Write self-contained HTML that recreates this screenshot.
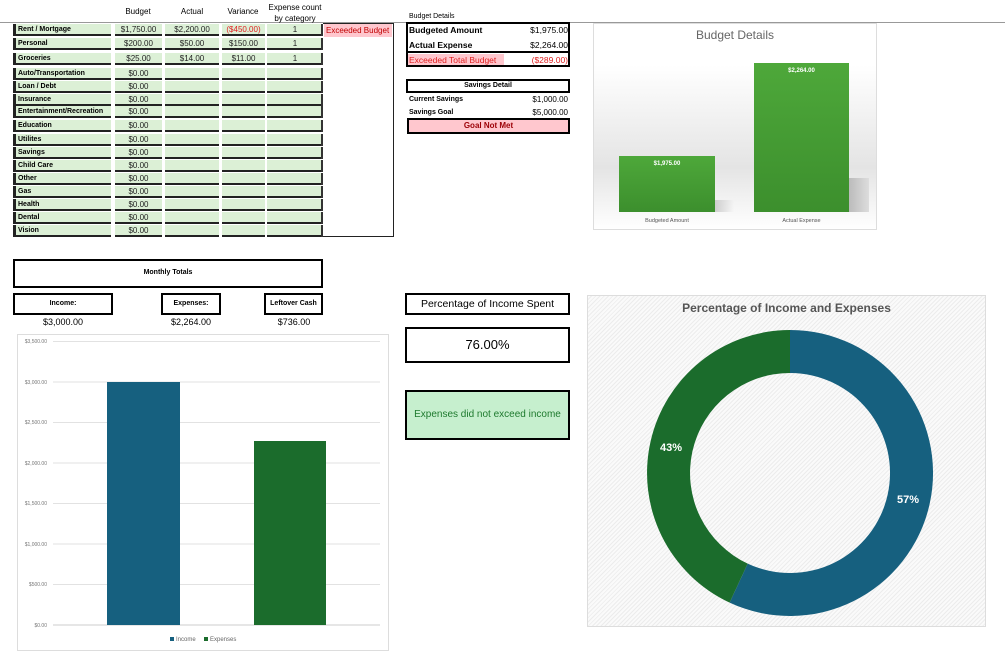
<!DOCTYPE html>
<html><head><meta charset="utf-8"><style>
body{margin:0;width:1005px;height:660px;position:relative;background:#fff;font-family:"Liberation Sans",sans-serif;overflow:hidden}
.a{position:absolute;box-sizing:border-box}
.c{font-size:7px;background:#dcf0d6;border-bottom:2px solid #222;}
.lab{font-weight:bold;border-left:3px solid #222;padding-left:2px;font-size:7px;line-height:11px}
.num{text-align:center;font-size:8px;line-height:11px;color:#222}
.box{border:2.5px solid #000;text-align:center;font-weight:bold}
</style></head><body>
<div class="a" style="left:0;top:22px;width:1005px;height:1px;background:#999"></div>
<div class="a" style="left:110px;top:7px;width:56px;text-align:center;font-size:8px">Budget</div>
<div class="a" style="left:165px;top:7px;width:54px;text-align:center;font-size:8px">Actual</div>
<div class="a" style="left:220px;top:7px;width:46px;text-align:center;font-size:8px">Variance</div>
<div class="a" style="left:264px;top:2px;width:62px;text-align:center;font-size:8px;line-height:11px">Expense count<br>by category</div>
<div class="a" style="left:323px;top:23px;width:71px;height:214px;border:1px solid #222;border-left:none"></div>
<div class="a" style="left:324px;top:24px;width:68px;height:13px;background:#ffc7ce;color:#c00000;font-size:8px;line-height:13px;padding-left:2px">Exceeded Budget</div>
<div id="rows"></div>
<script>
var r=[["Rent / Mortgage",24,"$1,750.00","$2,200.00","($450.00)","1"],["Personal",38,"$200.00","$50.00","$150.00","1"],["Groceries",53,"$25.00","$14.00","$11.00","1"],["Auto/Transportation",68],["Loan / Debt",81],["Insurance",94],["Entertainment/Recreation",106],["Education",120],["Utilites",134],["Savings",147],["Child Care",160],["Other",173],["Gas",186],["Health",199],["Dental",212],["Vision",225]];
var cols=[[13,98],[115,47],[165,54],[222,43],[267,56]];var h="";
r.forEach(function(o){var y=o[1],ht=12;
h+='<div class="a c lab" style="left:13px;top:'+y+'px;width:98px;height:'+ht+'px">'+o[0]+'</div>';
for(var i=1;i<5;i++){var t=i==1?(o[2]||"$0.00"):(o[i+1]||"");var st=(i==3&&o[4]&&o[4][0]=="(")?"color:#e02020;":"";
h+='<div class="a c num" style="'+st+'left:'+cols[i][0]+'px;top:'+y+'px;width:'+cols[i][1]+'px;height:'+ht+'px">'+t+'</div>';}
h+='<div class="a" style="left:321px;top:'+y+'px;width:2px;height:'+ht+'px;background:#333"></div>';});
document.getElementById("rows").innerHTML=h;
</script>
<!-- budget details -->
<div class="a" style="left:409px;top:13px;font-size:7px">Budget Details</div>
<div class="a" style="left:406px;top:22px;width:164px;height:45px;border:2px solid #000"></div>
<div class="a" style="left:406px;top:51px;width:164px;height:2px;background:#000"></div>
<div class="a" style="left:409px;top:25px;font-size:8.5px;font-weight:bold">Budgeted Amount</div>
<div class="a" style="left:500px;top:25px;width:68px;text-align:right;font-size:8.5px">$1,975.00</div>
<div class="a" style="left:409px;top:40px;font-size:8.5px;font-weight:bold">Actual Expense</div>
<div class="a" style="left:500px;top:40px;width:68px;text-align:right;font-size:8.5px">$2,264.00</div>
<div class="a" style="left:408px;top:54px;width:96px;height:11px;background:#ffc7ce"></div>
<div class="a" style="left:409px;top:55px;font-size:8.5px;color:#e02020">Exceeded Total Budget</div>
<div class="a" style="left:500px;top:55px;width:68px;text-align:right;font-size:8.5px;color:#e02020">($289.00)</div>
<div class="a box" style="left:406px;top:79px;width:164px;height:14px;font-size:7px;line-height:10px">Savings Detail</div>
<div class="a" style="left:409px;top:96px;font-size:7px;font-weight:bold">Current Savings</div>
<div class="a" style="left:500px;top:95px;width:68px;text-align:right;font-size:8px">$1,000.00</div>
<div class="a" style="left:409px;top:109px;font-size:7px;font-weight:bold">Savings Goal</div>
<div class="a" style="left:500px;top:108px;width:68px;text-align:right;font-size:8px">$5,000.00</div>
<div class="a box" style="left:407px;top:118px;width:163px;height:16px;background:#ffc7ce;color:#9c0006;font-size:8px;line-height:11px">Goal Not Met</div>
<!-- budget chart -->
<div class="a" style="left:593px;top:23px;width:284px;height:207px;border:1px solid #ddd;background:linear-gradient(#fff 20%,#e4e4e4 70%,#fff 100%)"></div>
<div class="a" style="left:593px;top:28px;width:284px;text-align:center;font-size:12px;color:#666">Budget Details</div>
<div class="a" style="left:714px;top:200px;width:20px;height:12px;background:linear-gradient(90deg,#ccc,transparent)"></div>
<div class="a" style="left:849px;top:178px;width:20px;height:34px;background:linear-gradient(90deg,#bbb,#ddd)"></div>
<div class="a" style="left:619px;top:156px;width:96px;height:56px;background:linear-gradient(#4ea83a,#3c8f2d);color:#fff;font-size:6px;font-weight:bold;text-align:center;padding-top:5px">$1,975.00</div>
<div class="a" style="left:754px;top:63px;width:95px;height:149px;background:linear-gradient(#4ea83a,#3c8f2d);color:#fff;font-size:6px;font-weight:bold;text-align:center;padding-top:5px">$2,264.00</div>
<div class="a" style="left:619px;top:218px;width:96px;text-align:center;font-size:5.5px;color:#555">Budgeted Amount</div>
<div class="a" style="left:754px;top:218px;width:95px;text-align:center;font-size:5.5px;color:#555">Actual Expense</div>
<!-- monthly totals -->
<div class="a box" style="left:13px;top:259px;width:310px;height:29px;font-size:7px;line-height:24px">Monthly Totals</div>
<div class="a box" style="left:13px;top:293px;width:100px;height:22px;font-size:7px;line-height:17px">Income:</div>
<div class="a box" style="left:161px;top:293px;width:60px;height:22px;font-size:7px;line-height:17px">Expenses:</div>
<div class="a box" style="left:264px;top:293px;width:59px;height:22px;font-size:7px;line-height:17px">Leftover Cash</div>
<div class="a" style="left:13px;top:317px;width:100px;text-align:center;font-size:9px">$3,000.00</div>
<div class="a" style="left:151px;top:317px;width:80px;text-align:center;font-size:9px">$2,264.00</div>
<div class="a" style="left:254px;top:317px;width:80px;text-align:center;font-size:9px">$736.00</div>
<!-- bar chart -->
<div class="a" style="left:17px;top:334px;width:372px;height:317px;border:1px solid #ddd"></div>
<svg class="a" style="left:0;top:0" width="400" height="660">
<g stroke="#e2e2e2" stroke-width="1">
<line x1="53" x2="380" y1="341.5" y2="341.5"/><line x1="53" x2="380" y1="382" y2="382"/><line x1="53" x2="380" y1="422.5" y2="422.5"/><line x1="53" x2="380" y1="463" y2="463"/><line x1="53" x2="380" y1="503.5" y2="503.5"/><line x1="53" x2="380" y1="544" y2="544"/><line x1="53" x2="380" y1="584.5" y2="584.5"/><line x1="53" x2="380" y1="625" y2="625" stroke="#ccc"/></g>
<g font-size="5" fill="#777" text-anchor="end" font-family="Liberation Sans">
<text x="47" y="343">$3,500.00</text><text x="47" y="384">$3,000.00</text><text x="47" y="424">$2,500.00</text><text x="47" y="465">$2,000.00</text><text x="47" y="505">$1,500.00</text><text x="47" y="546">$1,000.00</text><text x="47" y="586">$500.00</text><text x="47" y="627">$0.00</text></g>
<rect x="107" y="382" width="73" height="243" fill="#16607f"/>
<rect x="254" y="441" width="72" height="184" fill="#1b6c2c"/>
<rect x="170" y="637" width="4" height="4" fill="#16607f"/><text x="176" y="641" font-size="6" fill="#666" font-family="Liberation Sans">Income</text>
<rect x="204" y="637" width="4" height="4" fill="#1b6c2c"/><text x="210" y="641" font-size="6" fill="#666" font-family="Liberation Sans">Expenses</text>
</svg>
<!-- percentage -->
<div class="a" style="left:405px;top:293px;width:165px;height:22px;border:2px solid #000;text-align:center;font-size:10.5px;line-height:18px">Percentage of Income Spent</div>
<div class="a" style="left:405px;top:327px;width:165px;height:36px;border:2.5px solid #000;text-align:center;font-size:13px;line-height:31px">76.00%</div>
<div class="a" style="left:405px;top:390px;width:165px;height:50px;border:2.5px solid #000;background:#c6efce;color:#1e7a2e;text-align:center;font-size:10px;line-height:45px">Expenses did not exceed income</div>
<!-- donut -->
<div class="a" style="left:587px;top:295px;width:399px;height:332px;border:1px solid #ddd;background:repeating-linear-gradient(135deg,#fafafa 0 2px,#ececec 2px 3px)"></div>
<div class="a" style="left:587px;top:301px;width:399px;text-align:center;font-size:12px;font-weight:bold;color:#555">Percentage of Income and Expenses</div>
<svg class="a" style="left:0;top:0" width="1005" height="660">
<path d="M790 330 A143 143 0 1 1 729.6 602.6 L747.7 563.6 A100 100 0 1 0 790 373 Z" fill="#16607f"/>
<path d="M729.6 602.6 A143 143 0 0 1 790 330 L790 373 A100 100 0 0 0 747.7 563.6 Z" fill="#1b6c2c"/>
<text x="671" y="451" font-size="11" font-weight="bold" fill="#fff" text-anchor="middle" font-family="Liberation Sans">43%</text>
<text x="908" y="503" font-size="11" font-weight="bold" fill="#fff" text-anchor="middle" font-family="Liberation Sans">57%</text>
</svg>
</body></html>
